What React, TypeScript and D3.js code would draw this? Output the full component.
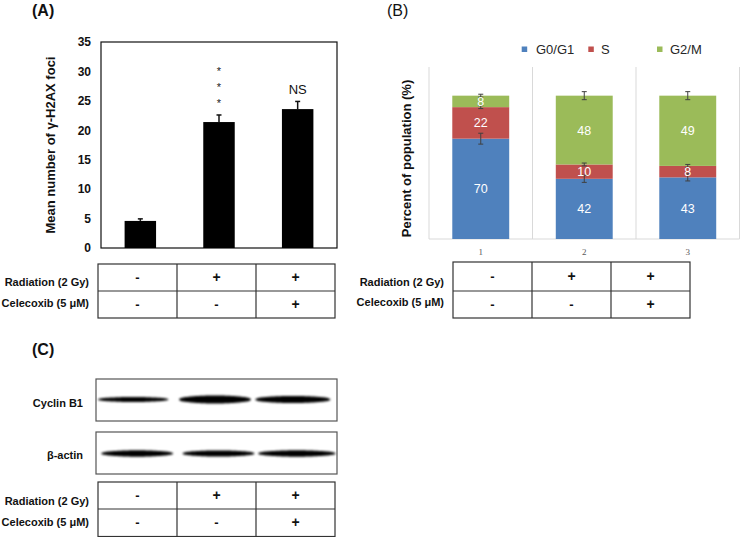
import React from "react";
import * as d3 from "d3";

// ---------- data ----------
const groupsA = ["ctrl", "rad", "radCel"];
const fociMean = [4.6, 21.4, 23.6];
const fociErr = [0.35, 1.2, 1.3];
const fociTicks = [0, 5, 10, 15, 20, 25, 30, 35];
const sigLabels = ["", "***", "NS"];

const categoriesB = ["1", "2", "3"];
const phaseKeys = ["G0/G1", "S", "G2/M"];
const g0g1 = [70, 42, 43];
const sPhase = [22, 10, 8];
const g2m = [8, 48, 49];
const g0g1Err = [3.8, 2.5, 2.5];
const sErr = [1.0, 1.0, 1.0];
const g2mErr = [1.0, 2.8, 2.8];
const phaseColors = ["#4F81BD", "#C0504D", "#9BBB59"];

const radiation = ["-", "+", "+"];
const celecoxib = ["-", "-", "+"];

const lanes = ["1", "2", "3"];
const cyclinB1Thickness = [4.4, 7.0, 6.2];
const actinThickness = [5.6, 5.4, 5.6];

const FONT = "'Liberation Sans', Arial, Helvetica, sans-serif";

// ---------- helpers ----------
function ConditionTable({ x0, x1, yTop, yMid, yBot, labelX, labelY1, labelY2 }: any) {
  const xs = d3.scaleBand<string>().domain(lanes).range([x0, x1]);
  const c1 = (yTop + yMid) / 2;
  const c2 = (yMid + yBot) / 2;
  return (
    <g fontFamily={FONT}>
      <rect x={x0} y={yTop} width={x1 - x0} height={yBot - yTop} fill="none" stroke="#333" strokeWidth={1.2} />
      <line x1={x0} x2={x1} y1={yMid} y2={yMid} stroke="#333" strokeWidth={1.2} />
      {lanes.slice(1).map((l) => (
        <line key={l} x1={xs(l)} x2={xs(l)} y1={yTop} y2={yBot} stroke="#333" strokeWidth={1.2} />
      ))}
      <text x={labelX} y={labelY1 + 4} textAnchor="end" fontSize={11} fontWeight="bold" fill="#111">Radiation (2 Gy)</text>
      <text x={labelX} y={labelY2 + 4} textAnchor="end" fontSize={11} fontWeight="bold" fill="#111">Celecoxib (5 μM)</text>
      {lanes.map((l, i) => (
        <g key={l}>
          <text x={xs(l)! + xs.bandwidth() / 2} y={c1 + 4.5} textAnchor="middle" fontSize={radiation[i] === "+" ? 14 : 13} fontWeight="bold" fill="#111">{radiation[i]}</text>
          <text x={xs(l)! + xs.bandwidth() / 2} y={c2 + 4.5} textAnchor="middle" fontSize={celecoxib[i] === "+" ? 14 : 13} fontWeight="bold" fill="#111">{celecoxib[i]}</text>
        </g>
      ))}
    </g>
  );
}

function Blot({ x0, x1, yTop, yBot, thickness, offset, widthFrac, cy }: any) {
  const xs = d3.scaleBand<string>().domain(lanes).range([x0, x1]);
  const ts = d3.range(0, 1.0001, 0.02);
  return (
    <g>
      <rect x={x0} y={yTop} width={x1 - x0} height={yBot - yTop} fill="#fff" stroke="#555" strokeWidth={1.2} />
      {lanes.map((l, i) => {
        const w = xs.bandwidth() * widthFrac[i];
        const cx = xs(l)! + xs.bandwidth() / 2 + offset[i];
        const h = thickness[i] / 2;
        const area = d3
          .area<number>()
          .x((t) => cx - w / 2 + t * w)
          .y0((t) => cy - h * Math.pow(Math.sin(Math.PI * t), 0.35) * (1 + 0.15 * Math.sin(Math.PI * t)))
          .y1((t) => cy + h * Math.pow(Math.sin(Math.PI * t), 0.35) * (1 + 0.15 * Math.sin(Math.PI * t)))
          .curve(d3.curveBasis);
        return <path key={l} d={area(ts) || ""} fill="#000" filter="url(#blur)" />;
      })}
    </g>
  );
}

export default function App() {
  // ---- Panel A ----
  const yA = d3.scaleLinear().domain([0, 35]).range([248, 42]);
  const xA = d3.scaleBand<string>().domain(groupsA).range([101, 337]).paddingInner(0.6).paddingOuter(0.3);

  // ---- Panel B ----
  const yB = d3.scaleLinear().domain([0, 120]).range([239, 67]);
  const xB = d3.scaleBand<string>().domain(categoriesB).range([429, 739.5]).paddingInner(0.45).paddingOuter(0.225);
  const rows = categoriesB.map((c, i) => ({ cat: c, "G0/G1": g0g1[i], S: sPhase[i], "G2/M": g2m[i] }));
  const stacked = d3.stack<any>().keys(phaseKeys)(rows);
  const errs = [g0g1Err, sErr, g2mErr];
  const stepB = xB.step();
  const gridXs = d3.range(0, categoriesB.length + 1).map((i) => 429 + i * stepB);
  const legendX = [521.7, 588.3, 657];
  const legendTextX = [536, 601, 670];

  return (
    <svg width={740} height={537} style={{ position: "absolute", left: 0, top: 0, display: "block", background: "#fff" }} fontFamily={FONT}>
      <defs>
        <filter id="blur" x="-10%" y="-100%" width="120%" height="300%">
          <feGaussianBlur stdDeviation="0.9" />
        </filter>
      </defs>
      <rect x={0} y={0} width={740} height={537} fill="#fff" />

      {/* ===== Panel A ===== */}
      <text x={32} y={16} fontSize={16} fontWeight="bold" fill="#111">(A)</text>
      <rect x={101} y={42} width={236} height={206} fill="none" stroke="#111" strokeWidth={1.2} />
      {fociTicks.map((t) => (
        <text key={t} x={91} y={yA(t) + 4.3} textAnchor="end" fontSize={12} fontWeight="bold" fill="#111">{t}</text>
      ))}
      <text transform={`translate(55,${(42 + 248) / 2}) rotate(-90)`} textAnchor="middle" fontSize={13} fontWeight="bold" fill="#111">
        Mean number of γ-H2AX foci
      </text>
      {groupsA.map((g, i) => {
        const cx = xA(g)! + xA.bandwidth() / 2;
        return (
          <g key={g}>
            <line x1={cx} x2={cx} y1={yA(fociMean[i])} y2={yA(fociMean[i] + fociErr[i])} stroke="#111" strokeWidth={1.5} />
            <line x1={cx - 2.5} x2={cx + 2.5} y1={yA(fociMean[i] + fociErr[i])} y2={yA(fociMean[i] + fociErr[i])} stroke="#111" strokeWidth={1.5} />
            <rect x={xA(g)} y={yA(fociMean[i])} width={xA.bandwidth()} height={yA(0) - yA(fociMean[i])} fill="#000" />
          </g>
        );
      })}
      {/* significance marks */}
      {groupsA.map((g, i) => {
        const cx = xA(g)! + xA.bandwidth() / 2;
        if (sigLabels[i] === "***") {
          return (
            <g key={g}>
              {[0, 1, 2].map((k) => (
                <text key={k} x={cx} y={68 + k * 16 + 6.5} textAnchor="middle" fontSize={11} fill="#222">*</text>
              ))}
            </g>
          );
        }
        if (sigLabels[i] === "NS") {
          return <text key={g} x={cx} y={93.5} textAnchor="middle" fontSize={13} fill="#111">NS</text>;
        }
        return null;
      })}
      <ConditionTable x0={98} x1={335} yTop={264} yMid={291} yBot={318} labelX={89} labelY1={282} labelY2={303} />

      {/* ===== Panel B ===== */}
      <text x={387} y={16} fontSize={16} fill="#111">(B)</text>
      {/* legend */}
      {phaseKeys.map((k, i) => (
        <g key={k}>
          <rect x={legendX[i]} y={46.5} width={5.5} height={5.5} fill={phaseColors[i]} />
          <text x={legendTextX[i]} y={53.5} fontSize={13} fill="#262626">{k}</text>
        </g>
      ))}
      {gridXs.map((gx, i) => (
        <line key={i} x1={gx} x2={gx} y1={67} y2={239} stroke="#D9D9D9" strokeWidth={1} />
      ))}
      <line x1={429} x2={739.5} y1={239} y2={239} stroke="#D9D9D9" strokeWidth={1} />
      {stacked.map((layer, li) => (
        <g key={layer.key}>
          {layer.map((d: any, ci: number) => (
            <rect key={ci} x={xB(categoriesB[ci])} y={yB(d[1])} width={xB.bandwidth()} height={yB(d[0]) - yB(d[1])} fill={phaseColors[li]} />
          ))}
        </g>
      ))}
      {/* error bars */}
      {stacked.map((layer, li) => (
        <g key={"e" + layer.key}>
          {layer.map((d: any, ci: number) => {
            const cx = xB(categoriesB[ci])! + xB.bandwidth() / 2;
            const e = errs[li][ci];
            return (
              <g key={ci} stroke="#404040" strokeWidth={1}>
                <line x1={cx} x2={cx} y1={yB(d[1] + e)} y2={yB(d[1] - e)} />
                <line x1={cx - 2.5} x2={cx + 2.5} y1={yB(d[1] + e)} y2={yB(d[1] + e)} />
                <line x1={cx - 2.5} x2={cx + 2.5} y1={yB(d[1] - e)} y2={yB(d[1] - e)} />
              </g>
            );
          })}
        </g>
      ))}
      {/* segment labels */}
      {stacked.map((layer, li) => (
        <g key={"l" + layer.key}>
          {layer.map((d: any, ci: number) => (
            <text key={ci} x={xB(categoriesB[ci])! + xB.bandwidth() / 2} y={yB((d[0] + d[1]) / 2) + 4.5} textAnchor="middle" fontSize={12.5} fill="#fff">
              {d[1] - d[0]}
            </text>
          ))}
        </g>
      ))}
      {categoriesB.map((c) => (
        <text key={c} x={xB(c)! + xB.bandwidth() / 2} y={255} textAnchor="middle" fontSize={9} fontFamily="'Liberation Serif', 'DejaVu Serif', serif" fill="#595959">{c}</text>
      ))}
      <text transform={`translate(411,${(80 + 237) / 2}) rotate(-90)`} textAnchor="middle" fontSize={13} fontWeight="bold" fill="#111">
        Percent of population (%)
      </text>
      <ConditionTable x0={453} x1={690} yTop={262} yMid={291} yBot={318} labelX={444} labelY1={282} labelY2={302} />

      {/* ===== Panel C ===== */}
      <text x={32} y={355} fontSize={16} fontWeight="bold" fill="#111">(C)</text>
      <Blot x0={96} x1={337} yTop={379} yBot={421} thickness={cyclinB1Thickness} offset={[-3, -1.5, -4]} widthFrac={[0.88, 0.9, 0.94]} cy={399.5} />
      <Blot x0={96} x1={337} yTop={432} yBot={474} thickness={actinThickness} offset={[1, 2, 0]} widthFrac={[0.9, 0.9, 0.97]} cy={453.5} />
      <text x={83} y={402.7 + 4} textAnchor="end" fontSize={11} fontWeight="bold" fill="#111">Cyclin B1</text>
      <text x={83} y={455 + 4} textAnchor="end" fontSize={11} fontWeight="bold" fill="#111">β-actin</text>
      <ConditionTable x0={98} x1={335} yTop={482} yMid={509} yBot={536.5} labelX={89} labelY1={501} labelY2={522} />
    </svg>
  );
}
